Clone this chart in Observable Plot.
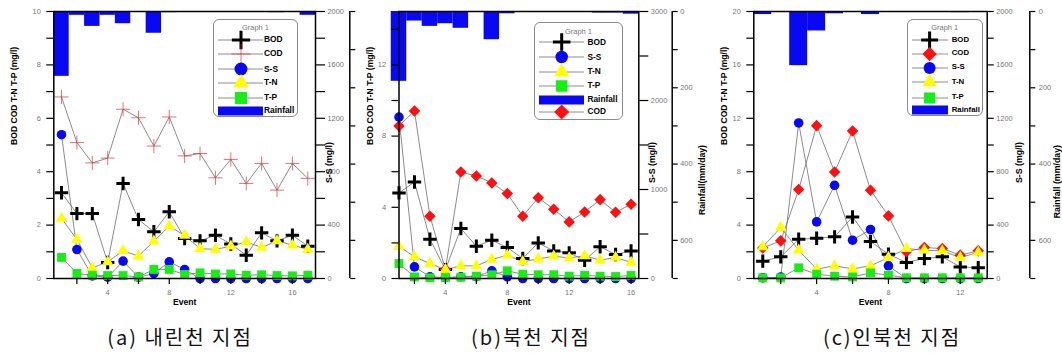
<!DOCTYPE html>
<html><head><meta charset="utf-8">
<script src="https://cdn.jsdelivr.net/npm/d3@7"></script>
<script src="https://cdn.jsdelivr.net/npm/@observablehq/plot@0.6"></script>
<style>
body{margin:0;background:#fff;}
#wrap{position:relative;width:1062px;height:356px;overflow:hidden;font-family:"Liberation Sans",Arial,sans-serif;background:#fff;}
.panel{position:absolute;top:0;}
.legend{position:absolute;border:1px solid #8a8a8a;border-radius:6px;background:#fff;box-sizing:border-box;}
.legend .t{position:absolute;left:0;right:0;text-align:center;color:#777;font-size:7.5px;line-height:1;}
.legend .lab{position:absolute;font-weight:bold;color:#000;line-height:1;white-space:nowrap;}
.legend svg{position:absolute;overflow:visible;}
.cap{position:absolute;top:327px;font-family:"Noto Sans CJK KR",sans-serif;font-size:20px;letter-spacing:2px;line-height:1;transform:translateX(-50%);white-space:nowrap;color:#111;}
</style>
</head><body>
<div id="wrap"></div>
<script>
// ---------- data: panel (a) 내린천 ----------
const eventsA = [1,2,3,4,5,6,7,8,9,10,11,12,13,14,15,16,17];
const bodA = [3.21,2.43,2.43,0.6,3.56,2.21,1.75,2.5,1.5,1.41,1.62,1.29,0.87,1.71,1.41,1.62,1.21];
const codA = [6.8,5.09,4.33,4.51,6.34,6.02,4.96,6.05,4.59,4.68,3.77,4.46,3.56,4.31,3.31,4.31,3.75];
const ssA  = [1077,217,20,10,130,10,37,125,67,0,0,0,0,0,0,0,0];
const tnA  = [2.25,1.46,0.4,0.62,1.04,0.84,1.4,1.96,1.61,1.12,1.09,1.21,1.37,1.16,1.41,1.25,1.09];
const tpA  = [0.79,0.19,0.12,0.11,0.11,0.06,0.34,0.34,0.15,0.21,0.17,0.17,0.12,0.14,0.11,0.1,0.12];
const rainA = [170,10,39,10,32,0,57,3,0,0,0,0,0,0,3,1,10];

// ---------- data: panel (b) 북천 ----------
const eventsB = [1,2,3,4,5,6,7,8,9,10,11,12,13,14,15,16];
const bodB = [4.81,5.42,2.21,0.5,2.81,1.81,2.15,1.74,1.12,2.0,1.55,1.44,1.03,1.78,1.35,1.55];
const codB = [8.57,9.41,3.5,0.52,5.98,5.76,5.37,4.77,3.5,4.54,3.89,3.18,3.74,4.43,3.72,4.17];
const ssB  = [1814,131,19,11,19,20,86,19,0,0,0,0,0,0,0,0];
const tnB  = [1.81,1.22,0.84,0.5,0.71,0.71,1.07,1.31,0.94,1.1,1.25,1.16,1.27,1.03,1.18,0.9];
const tpB  = [0.84,0.09,0.04,0.06,0.07,0.13,0.21,0.43,0.24,0.21,0.21,0.13,0.17,0.13,0.11,0.17];
const rainB = [183,25,39,32,44,0,74,6,0,0,0,0,0,4,4,7];

// ---------- data: panel (c) 인북천 ----------
const eventsC = [1,2,3,4,5,6,7,8,9,10,11,12,13];
const bodC = [1.3,1.62,2.94,3.02,3.12,4.61,2.77,1.82,1.2,1.5,1.62,0.87,0.8];
const codC = [2.29,2.82,6.66,11.45,7.98,11.05,6.61,4.69,2.0,2.32,2.24,1.75,2.07];
const ssC  = [5,10,1165,424,698,287,367,95,0,0,0,0,0];
const tnC  = [2.37,3.82,2.12,0.7,0.95,0.72,0.95,1.57,2.24,2.12,2.07,1.57,1.95];
const tpC  = [0.05,0.05,0.8,0.32,0.17,0.12,0.42,0.25,0.05,0.05,0.05,0.05,0.05];
const rainC = [8,0,142,51,6,0,8,0,0,0,0,3,0];

// ---------- labels ----------
const leftTitle = "BOD COD T-N T-P (mg/l)";
const ssTitle = "S-S (mg/l)";
const xTitle = "Event";
const captions = ["(a) 내린천 지점", "(b)북천 지점", "(c)인북천 지점"];
const rainMax = 700;
const rainTicks = [0,100,200,300,400,500,600,700];
const rainLabelTicks = [0,200,400,600];

// ---------- style ----------
const BLUE = "#0808f2", YEL = "#ffff00", GRN = "#16ee16", RED = "#ff1010", LINE = "#6e6e6e";
const sym = {
  BOD: {symbol:"plus", r:4.4, fill:"none", stroke:"#000", strokeWidth:3},
  CODp: {symbol:"plus", r:4.6, fill:"none", stroke:"#e03030", strokeWidth:0.7},
  COD: {symbol:"diamond2", r:5.2, fill:RED, stroke:"none"},
  SS: {symbol:"circle", r:4.8, fill:BLUE, stroke:"none"},
  TN: {symbol:"triangle", r:4.3, fill:YEL, stroke:"none"},
  TP: {symbol:"square", r:5.0, fill:GRN, stroke:"none"}
};

function panel(cfg) {
  const {events, bod, cod, ss, tn, tp, rain, xDomain, leftMax, ssMax} = cfg;
  const kS = leftMax / ssMax, kR = leftMax / rainMax;
  const rows = (vals, k = 1) => events.map((e, i) => ({e, v: vals[i] * k}));
  const rainRows = events.map((e, i) => ({e, r: rain[i]})).filter(d => d.r > 0);
  const series = [
    [rows(bod), sym.BOD],
    [rows(cod), cfg.codPlus ? sym.CODp : sym.COD],
    [rows(ss, kS), sym.SS],
    [rows(tn), sym.TN],
    [rows(tp), sym.TP]
  ];
  const leftTicks = d3.range(0, leftMax + 1e-9, cfg.leftStep);
  const ssTicks = d3.range(0, ssMax + 1e-9, cfg.ssStep);
  const txt = {fill: "#777", fontSize: 7.4};
  const marks = [
    Plot.rect(rainRows, {x1: d => d.e - 0.5, x2: d => d.e + 0.5, y1: () => leftMax, y2: d => leftMax - d.r * kR, fill: BLUE}),
    ...series.map(([data]) => Plot.line(data, {x: "e", y: "v", stroke: LINE, strokeWidth: 0.8})),
    ...series.map(([data, s]) => Plot.dot(data, {x: "e", y: "v", ...s})),
    Plot.frame({stroke: "#000", strokeWidth: 1.5}),
    Plot.axisY(leftTicks, {anchor: "left", tickSize: 7, tickPadding: 6, stroke: "#000", strokeWidth: 1.2, ...txt,
      tickFormat: d => (Math.abs(d % cfg.leftLabel) < 1e-9 ? String(d) : ""), label: null}),
    Plot.axisY(ssTicks.map(v => v * kS), {anchor: "right", tickSize: cfg.ssTick, tickPadding: 3, stroke: "#000", strokeWidth: 1.2, ...txt,
      tickFormat: d => { const v = Math.round(d / kS); return v % cfg.ssLabel === 0 ? String(v) : ""; }, label: null}),
    Plot.ruleX([xDomain[1]], {dx: cfg.rainDx, stroke: "#000", strokeWidth: 1.5}),
    Plot.axisY(rainTicks.map(v => leftMax - v * kR), {anchor: "right", dx: cfg.rainDx, tickSize: 5, tickPadding: cfg.rainPad, stroke: "#000", strokeWidth: 1.2, ...txt,
      tickFormat: cfg.rainLabels ? (d => { const v = Math.round((leftMax - d) / kR); return rainLabelTicks.includes(v) ? String(v) : ""; }) : (() => ""), label: null}),
    Plot.axisX(cfg.xTicks, {anchor: "bottom", tickSize: 6, tickPadding: 5, stroke: "#000", strokeWidth: 1.2, ...txt,
      tickFormat: d => (cfg.xLabels.includes(d) ? String(d) : ""), label: null}),
    Plot.text([leftTitle], {frameAnchor: "left", rotate: -90, dx: cfg.leftTitleDx, fontWeight: "bold", fontSize: 8.6, fill: "#000"}),
    Plot.text([ssTitle], {frameAnchor: "right", rotate: -90, dx: cfg.ssTitleDx, dy: -3, fontWeight: "bold", fontSize: 8.8, fill: "#000"}),
    Plot.text([xTitle], {frameAnchor: "bottom", dy: 26, fontWeight: "bold", fontSize: 8.6, fill: "#000"})
  ];
  if (cfg.rainTitle) marks.push(Plot.text([cfg.rainTitle], {frameAnchor: "right", rotate: -90, dx: cfg.rainTitleDx, fontWeight: "bold", fontSize: cfg.rainTitleSize, fill: "#000"}));
  const svg = Plot.plot({
    width: cfg.width, height: 312,
    marginTop: 11, marginBottom: 34, marginLeft: cfg.ml, marginRight: cfg.mr,
    x: {type: "linear", domain: xDomain},
    y: {type: "linear", domain: [0, leftMax]},
    style: {background: "transparent", overflow: "visible", fontFamily: "'Liberation Sans', Arial, sans-serif"},
    marks
  });
  svg.classList.add("panel");
  svg.style.left = cfg.left + "px";
  svg.style.position = "absolute";
  return svg;
}

function legend(L) {
  const div = document.createElement("div");
  div.className = "legend";
  Object.assign(div.style, {left: L.left + "px", top: L.top + "px", width: L.w + "px", height: L.h + "px"});
  const t = document.createElement("div");
  t.className = "t"; t.textContent = "Graph 1"; t.style.top = (L.titleY - 4) + "px";
  div.appendChild(t);
  L.items.forEach((it, i) => {
    const y = L.rows[i];
    const s = d3.create("svg").attr("width", L.x2 + 2).attr("height", 16)
      .style("left", "0px").style("top", (y - 8) + "px");
    if (it.key === "Rain") {
      s.append("rect").attr("x", L.x1).attr("y", 3.5).attr("width", L.x2 - L.x1).attr("height", 9).attr("fill", BLUE);
    } else {
      s.append("line").attr("x1", L.x1).attr("x2", L.x2).attr("y1", 8).attr("y2", 8).attr("stroke", LINE).attr("stroke-width", 0.8);
      const m = sym[it.key];
      const r = m.r * L.ms;
      const symType = {plus: d3.symbolPlus, diamond2: d3.symbolDiamond2, circle: d3.symbolCircle, triangle: d3.symbolTriangle, square: d3.symbolSquare}[m.symbol];
      s.append("path").attr("d", d3.symbol(symType, r * r * Math.PI)())
        .attr("transform", `translate(${L.mx},8)`)
        .attr("fill", m.fill).attr("stroke", m.stroke).attr("stroke-width", m.strokeWidth || 0);
    }
    div.appendChild(s.node());
    const lab = document.createElement("div");
    lab.className = "lab"; lab.textContent = it.label;
    lab.style.left = L.lx + "px"; lab.style.fontSize = L.fs + "px"; lab.style.top = (y - L.fs * 0.55) + "px";
    div.appendChild(lab);
  });
  return div;
}

const wrap = document.getElementById("wrap");
wrap.appendChild(panel({events: eventsA, bod: bodA, cod: codA, ss: ssA, tn: tnA, tp: tpA, rain: rainA,
  xDomain: [0.5, 17.5], leftMax: 10, leftStep: 1, leftLabel: 2, ssMax: 2000, ssStep: 200, ssLabel: 400, ssTick: 9,
  xTicks: [2,4,6,8,10,12,14,16], xLabels: [4,8,12,16], codPlus: true,
  left: 0, width: 362, ml: 53.3, mr: 47, rainDx: 34.3, rainPad: 3, rainLabels: false,
  leftTitleDx: -39.3, ssTitleDx: 13.5}));
wrap.appendChild(panel({events: eventsB, bod: bodB, cod: codB, ss: ssB, tn: tnB, tp: tpB, rain: rainB,
  xDomain: [1, 16.5], leftMax: 15, leftStep: 2, leftLabel: 4, ssMax: 3000, ssStep: 500, ssLabel: 1000, ssTick: 9,
  xTicks: [2,4,6,8,10,12,14,16], xLabels: [4,8,12,16], codPlus: false,
  left: 355, width: 360, ml: 43.5, mr: 76.7, rainDx: 33.4, rainPad: 3, rainLabels: true,
  rainTitle: "Rainfall(mm/day)", rainTitleDx: 63.7, rainTitleSize: 8.7,
  leftTitleDx: -28.5, ssTitleDx: 13.7}));
wrap.appendChild(panel({events: eventsC, bod: bodC, cod: codC, ss: ssC, tn: tnC, tp: tpC, rain: rainC,
  xDomain: [0.5, 13.5], leftMax: 20, leftStep: 2, leftLabel: 4, ssMax: 2000, ssStep: 200, ssLabel: 400, ssTick: 6,
  xTicks: [2,4,6,8,10,12], xLabels: [4,8,12], codPlus: false,
  left: 705, width: 357, ml: 48.3, mr: 75.3, rainDx: 42.6, rainPad: 4, rainLabels: true,
  rainTitle: "Rainfall (mm/day)", rainTitleDx: 69.5, rainTitleSize: 8.8,
  leftTitleDx: -30, ssTitleDx: 31.6}));

const itemsA = [{key:"BOD",label:"BOD"},{key:"CODp",label:"COD"},{key:"SS",label:"S-S"},{key:"TN",label:"T-N"},{key:"TP",label:"T-P"},{key:"Rain",label:"Rainfall"}];
const itemsB = [{key:"BOD",label:"BOD"},{key:"SS",label:"S-S"},{key:"TN",label:"T-N"},{key:"TP",label:"T-P"},{key:"Rain",label:"Rainfall"},{key:"COD",label:"COD"}];
const itemsC = [{key:"BOD",label:"BOD"},{key:"COD",label:"COD"},{key:"SS",label:"S-S"},{key:"TN",label:"T-N"},{key:"TP",label:"T-P"},{key:"Rain",label:"Rainfall"}];
wrap.appendChild(legend({left: 213, top: 19, w: 85, h: 98, titleY: 8, rows: [20, 33.7, 49.3, 62.7, 77.7, 91], x1: 4, x2: 49, mx: 27, lx: 50, fs: 8.4, ms: 1.35, items: itemsA}));
wrap.appendChild(legend({left: 534, top: 22, w: 89, h: 98, titleY: 9.4, rows: [19.4, 34.4, 48.7, 62.7, 76.7, 88.7], x1: 4, x2: 49, mx: 26.7, lx: 52.5, fs: 8.3, ms: 1.3, items: itemsB}));
wrap.appendChild(legend({left: 906.7, top: 19.3, w: 76, h: 97, titleY: 7.4, rows: [19.7, 33.4, 47.4, 61.7, 77.4, 89.7], x1: 4, x2: 40, mx: 21.6, lx: 44, fs: 7.8, ms: 1.25, items: itemsC}));

const capX = [180, 531, 892];
captions.forEach((c, i) => {
  const d = document.createElement("div");
  d.className = "cap"; d.textContent = c; d.style.left = capX[i] + "px";
  wrap.appendChild(d);
});
</script>
</body></html>
